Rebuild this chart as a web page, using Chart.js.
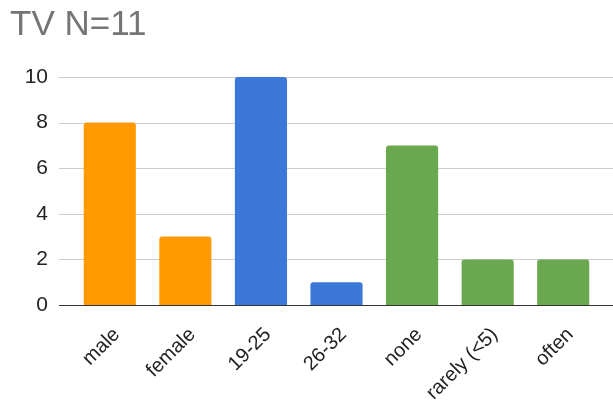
<!DOCTYPE html>
<html>
<head>
<meta charset="utf-8">
<script src="https://cdn.jsdelivr.net/npm/chart.js@4/dist/chart.umd.min.js"></script>
<style>
  html, body { margin: 0; padding: 0; background: #fff; }
  #wrap { width: 613px; height: 401px; }
</style>
</head>
<body>
<div id="wrap"><canvas id="myChart"></canvas></div>
<script>
// values
const categories = ['male', 'female', '19-25', '26-32', 'none', 'rarely (<5)', 'often'];
const counts = [8, 3, 10, 1, 7, 2, 2];
const barColors = ['#ff9900', '#ff9900', '#3c78d8', '#3c78d8', '#6aa84f', '#6aa84f', '#6aa84f'];
const yTicks = [0, 2, 4, 6, 8, 10];

// grid lines run a bit wider than the bars, like the google sheets chart
const gridPlugin = {
    id: 'wideGrid',
    beforeDatasetsDraw: function(chart){
        let ctx = chart.ctx;
        let y = chart.scales.y;
        let left = chart.chartArea.left - 13;
        let right = chart.width;
        ctx.save();
        yTicks.forEach(function(v){
            let py = Math.round(y.getPixelForValue(v)) + 0.5;
            ctx.beginPath();
            ctx.strokeStyle = v === 0 ? '#333333' : '#cccccc';
            ctx.lineWidth = 1;
            ctx.moveTo(left, py);
            ctx.lineTo(right, py);
            ctx.stroke();
        });
        ctx.restore();
    }
};

const font = 'Liberation Sans, Arial, sans-serif';

new Chart(document.getElementById('myChart'), {
    type: 'bar',
    data: {
        labels: categories,
        datasets: [{
            data: counts,
            backgroundColor: barColors,
            borderWidth: 0,
            borderRadius: {topLeft: 3, topRight: 3},
            borderSkipped: 'bottom',
            categoryPercentage: 1,
            barPercentage: 0.69
        }]
    },
    options: {
        responsive: true,
        maintainAspectRatio: false,
        animation: false,
        layout: {
            padding: {left: 10, right: 12, top: 0, bottom: 0}
        },
        plugins: {
            legend: {display: false},
            tooltip: {enabled: false},
            title: {
                display: true,
                text: 'TV N=11',
                align: 'start',
                color: '#757575',
                font: {family: font, size: 35, weight: 'normal'},
                padding: {top: 4, bottom: 31}
            }
        },
        scales: {
            x: {
                grid: {display: false, drawTicks: false},
                border: {display: false},
                ticks: {
                    color: '#222222',
                    font: {family: font, size: 20},
                    maxRotation: 45,
                    minRotation: 45,
                    autoSkip: false,
                    padding: 18,
                    labelOffset: 7
                },
                afterFit: function(scale){
                    scale.height = 96;
                }
            },
            y: {
                min: 0,
                max: 10,
                grid: {display: false, drawTicks: false},
                border: {display: false},
                ticks: {
                    stepSize: 2,
                    color: '#222222',
                    font: {family: font, size: 21},
                    padding: 24
                },
                afterFit: function(scale){
                    scale.width = 62;
                }
            }
        }
    },
    plugins: [gridPlugin]
});
</script>
</body>
</html>
